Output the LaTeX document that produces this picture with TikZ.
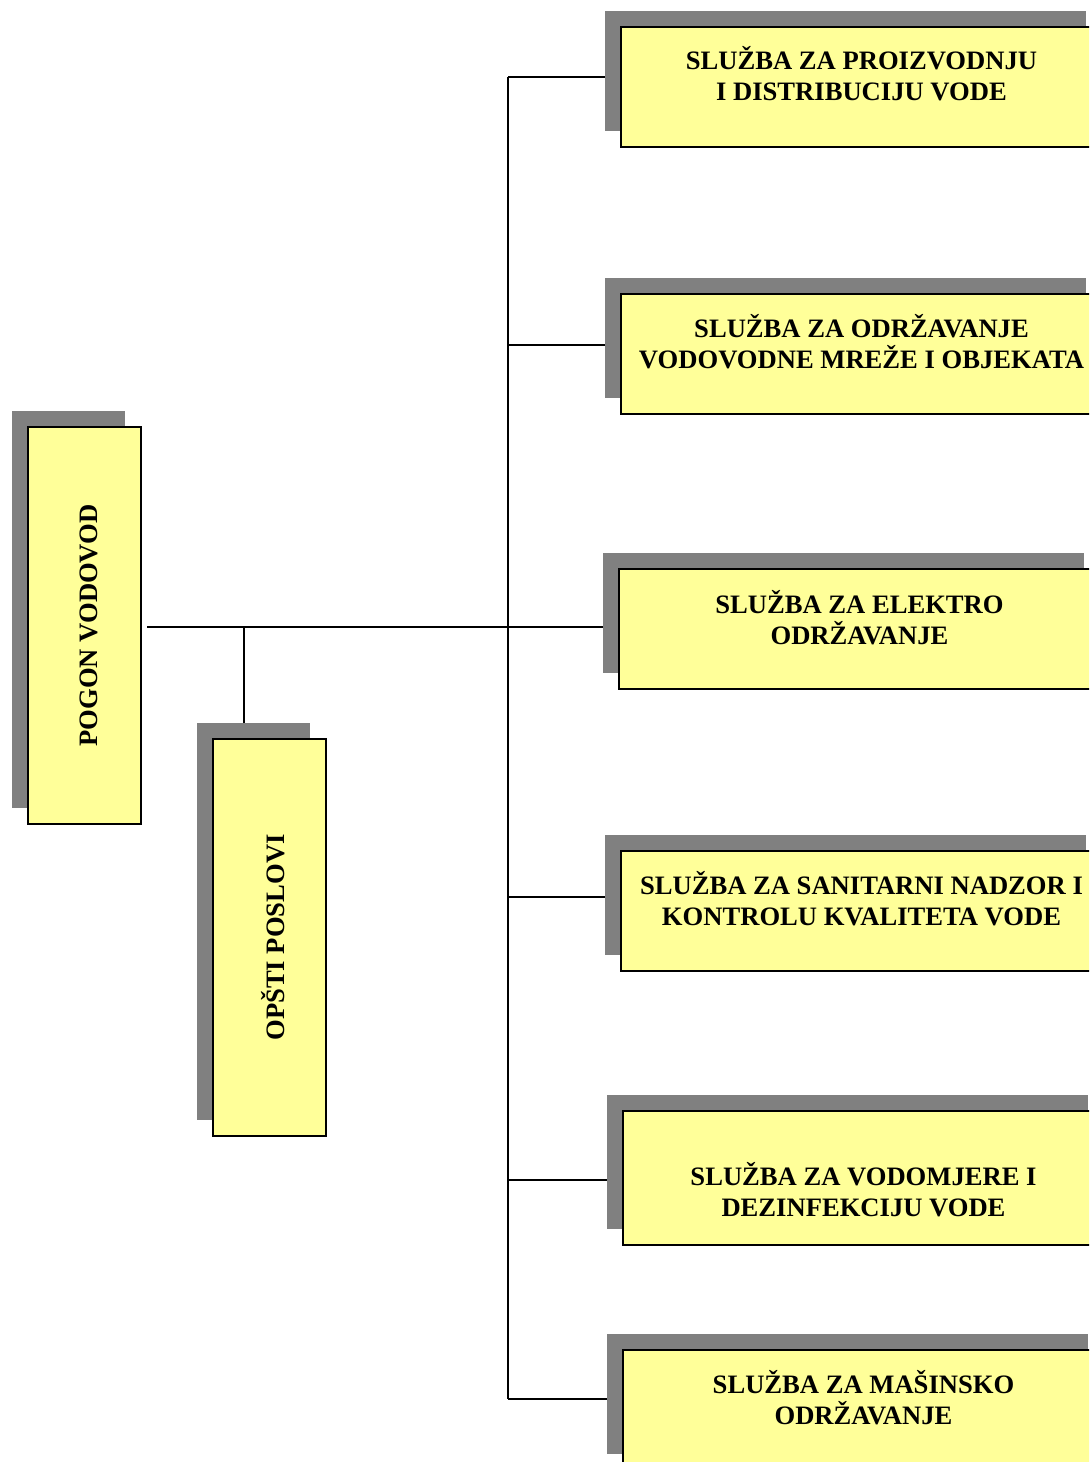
\documentclass[tikz,border=0pt]{standalone}
\usepackage{fontspec}
\setmainfont{Liberation Serif}
\usetikzlibrary{shadows,backgrounds}

\definecolor{boxyellow}{RGB}{255,255,153}
\definecolor{shadowgray}{RGB}{128,128,128}

\tikzset{
  unit/.style={draw, line width=1pt, fill=boxyellow, anchor=north west, inner sep=0pt,
    minimum width=240.5pt, minimum height=60pt,
    drop shadow={shadow xshift=-8pt, shadow yshift=8pt, fill=shadowgray, opacity=1}},
  tallunit/.style={unit, minimum width=56.5pt, minimum height=198.5pt},
  lbl/.style={font=\fontsize{13.3}{15.5}\selectfont\bfseries, align=center, inner sep=0pt},
  link/.style={line width=1pt}
}

\begin{document}
\begin{tikzpicture}[x=0.5pt, y=-0.5pt]
  \useasboundingbox (0,0) rectangle (1089,1462);
  \clip (0,0) rectangle (1089,1462);

  % left side
  \node[tallunit, label={[lbl, xshift=2pt, rotate=90]center:{POGON VODOVOD}}] (pogon) at (27,426) {};
  \node[tallunit, label={[lbl, xshift=2pt, rotate=90]center:{OPŠTI POSLOVI}}] (opsti) at (212,738) {};

  % sluzbe
  \node[unit, label={[lbl, yshift=6.5pt]center:{SLUŽBA ZA PROIZVODNJU\\I DISTRIBUCIJU VODE}}] (proiz) at (620,26) {};
  \node[unit, label={[lbl, yshift=6pt]center:{SLUŽBA ZA ODRŽAVANJE\\VODOVODNE MREŽE I OBJEKATA}}] (mreza) at (620,293) {};
  \node[unit, label={[lbl, yshift=5.5pt]center:{SLUŽBA ZA ELEKTRO\\ODRŽAVANJE}}] (elektro) at (618,568) {};
  \node[unit, label={[lbl, yshift=6pt]center:{SLUŽBA ZA SANITARNI NADZOR I\\KONTROLU KVALITETA VODE}}] (sanit) at (620,850) {};
  \node[unit, minimum height=67pt, label={[lbl, yshift=-6pt]center:{SLUŽBA ZA VODOMJERE I\\DEZINFEKCIJU VODE}}] (vodom) at (622,1110) {};
  \node[unit, label={[lbl, yshift=6pt]center:{SLUŽBA ZA MAŠINSKO\\ODRŽAVANJE}}] (masin) at (622,1349) {};

  % connectors
  \coordinate (j1) at (508,77);
  \coordinate (j2) at (508,345);
  \coordinate (j3) at (508,627);
  \coordinate (j4) at (508,897);
  \coordinate (j5) at (508,1180);
  \coordinate (j6) at (508,1399);
  \coordinate (jo) at (244,627);

  \begin{scope}[on background layer]
    \draw[link] (j1) -- (j6);
    \foreach \j/\b in {j1/proiz, j2/mreza, j3/elektro, j4/sanit, j5/vodom, j6/masin}
      \draw[link] (\j) -- (\j -| \b.west);
    \draw[link] ([xshift=2.5pt]pogon.east |- j3) -- (j3);
    \draw[link] (jo) -- (jo |- opsti.north);
  \end{scope}
\end{tikzpicture}
\end{document}
